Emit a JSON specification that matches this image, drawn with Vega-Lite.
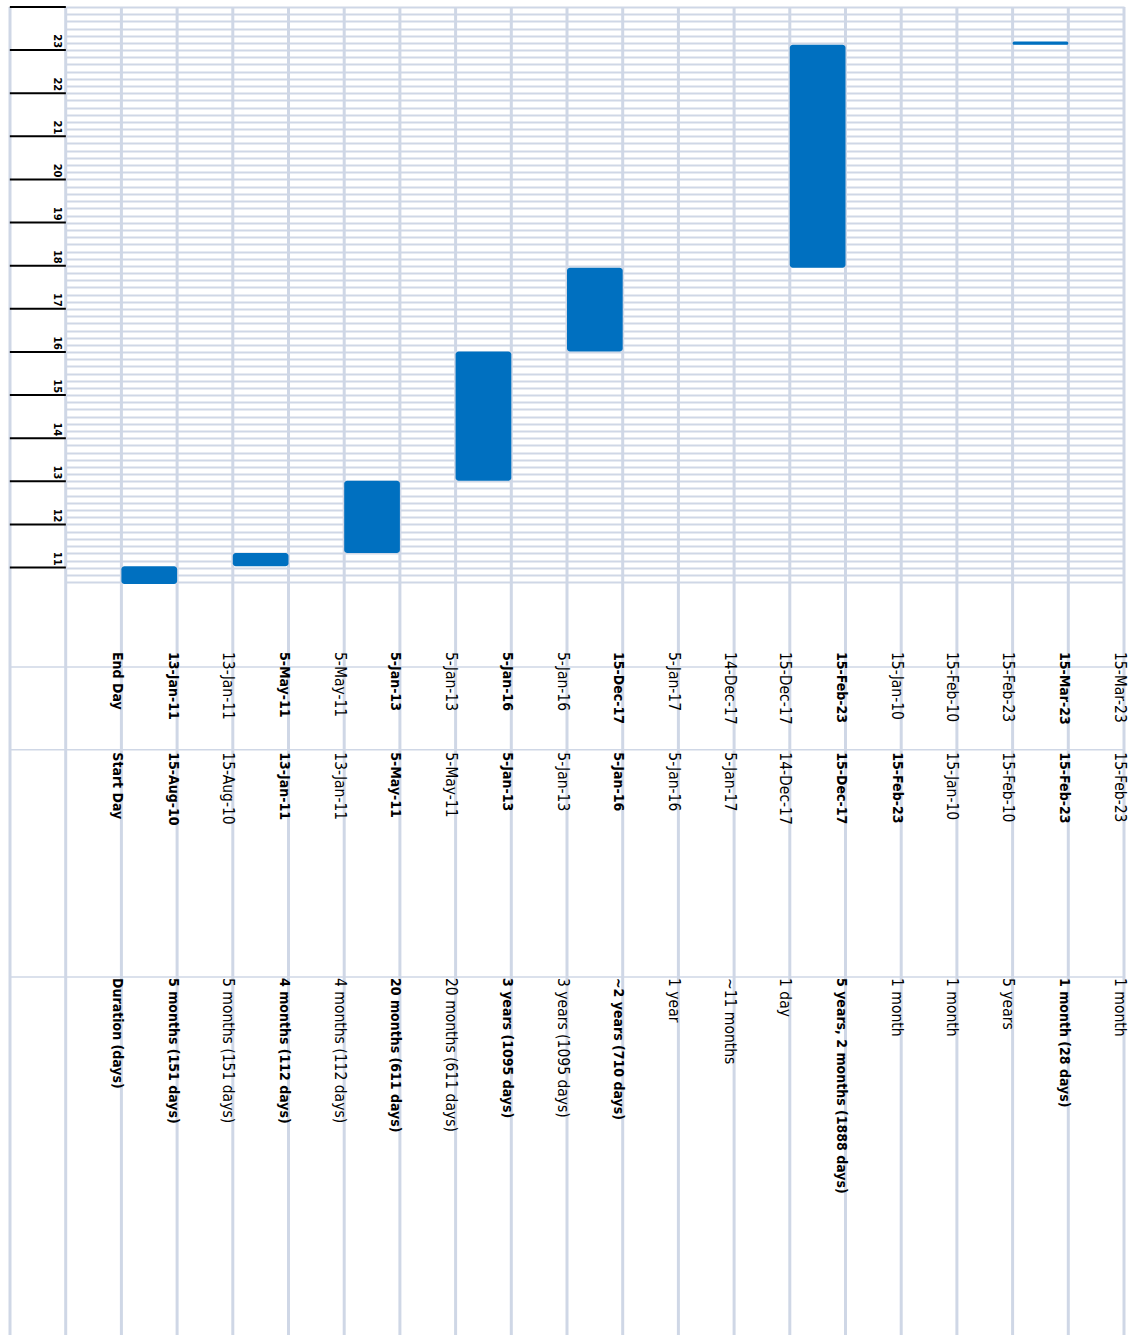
{
  "$schema": "https://vega.github.io/schema/vega-lite/v6.json",
  "padding": {"left": 8, "top": 5, "right": 9, "bottom": 0},
  "background": "white",
  "spacing": 0,
  "bounds": "flush",
  "config": {"view": {"stroke": null}, "font": "Liberation Sans Narrow, DejaVu Sans Condensed, sans-serif"},
  "datasets": {
    "cols": [{"col":"c0"},{"col":"c1"},{"col":"c2"},{"col":"c3"},{"col":"c4"},{"col":"c5"},{"col":"c6"},{"col":"c7"},{"col":"c8"},{"col":"c9"},{"col":"c10"},{"col":"c11"},{"col":"c12"},{"col":"c13"},{"col":"c14"},{"col":"c15"},{"col":"c16"},{"col":"c17"},{"col":"c18"},{"col":"c19"}],
    "years": [
      {"col":"c0","date":"2011-01-01","label":"11"},
      {"col":"c0","date":"2012-01-01","label":"12"},
      {"col":"c0","date":"2013-01-01","label":"13"},
      {"col":"c0","date":"2014-01-01","label":"14"},
      {"col":"c0","date":"2015-01-01","label":"15"},
      {"col":"c0","date":"2016-01-01","label":"16"},
      {"col":"c0","date":"2017-01-01","label":"17"},
      {"col":"c0","date":"2018-01-01","label":"18"},
      {"col":"c0","date":"2019-01-01","label":"19"},
      {"col":"c0","date":"2020-01-01","label":"20"},
      {"col":"c0","date":"2021-01-01","label":"21"},
      {"col":"c0","date":"2022-01-01","label":"22"},
      {"col":"c0","date":"2023-01-01","label":"23"},
      {"col":"c0","date":"2024-01-01","label":""}
    ],
    "steps": [
      {"col":"c2","start":"2010-08-15","end":"2011-01-13"},
      {"col":"c4","start":"2011-01-13","end":"2011-05-05"},
      {"col":"c6","start":"2011-05-05","end":"2013-01-05"},
      {"col":"c8","start":"2013-01-05","end":"2016-01-05"},
      {"col":"c10","start":"2016-01-05","end":"2017-12-15"},
      {"col":"c14","start":"2017-12-15","end":"2023-02-15"},
      {"col":"c18","start":"2023-02-15","end":"2023-03-15"}
    ],
    "rows": [{"row":"End Day"},{"row":"Start Day"},{"row":"Duration"}],
    "cells": [
      {"col":"c1","row":"End Day","text":"End Day","emph":true},
      {"col":"c1","row":"Start Day","text":"Start Day","emph":true},
      {"col":"c1","row":"Duration","text":"Duration (days)","emph":true},
      {"col":"c2","row":"End Day","text":"13-Jan-11","emph":true},
      {"col":"c2","row":"Start Day","text":"15-Aug-10","emph":true},
      {"col":"c2","row":"Duration","text":"5 months (151 days)","emph":true},
      {"col":"c3","row":"End Day","text":"13-Jan-11","emph":false},
      {"col":"c3","row":"Start Day","text":"15-Aug-10","emph":false},
      {"col":"c3","row":"Duration","text":"5 months (151 days)","emph":false},
      {"col":"c4","row":"End Day","text":"5-May-11","emph":true},
      {"col":"c4","row":"Start Day","text":"13-Jan-11","emph":true},
      {"col":"c4","row":"Duration","text":"4 months (112 days)","emph":true},
      {"col":"c5","row":"End Day","text":"5-May-11","emph":false},
      {"col":"c5","row":"Start Day","text":"13-Jan-11","emph":false},
      {"col":"c5","row":"Duration","text":"4 months (112 days)","emph":false},
      {"col":"c6","row":"End Day","text":"5-Jan-13","emph":true},
      {"col":"c6","row":"Start Day","text":"5-May-11","emph":true},
      {"col":"c6","row":"Duration","text":"20 months (611 days)","emph":true},
      {"col":"c7","row":"End Day","text":"5-Jan-13","emph":false},
      {"col":"c7","row":"Start Day","text":"5-May-11","emph":false},
      {"col":"c7","row":"Duration","text":"20 months (611 days)","emph":false},
      {"col":"c8","row":"End Day","text":"5-Jan-16","emph":true},
      {"col":"c8","row":"Start Day","text":"5-Jan-13","emph":true},
      {"col":"c8","row":"Duration","text":"3 years (1095 days)","emph":true},
      {"col":"c9","row":"End Day","text":"5-Jan-16","emph":false},
      {"col":"c9","row":"Start Day","text":"5-Jan-13","emph":false},
      {"col":"c9","row":"Duration","text":"3 years (1095 days)","emph":false},
      {"col":"c10","row":"End Day","text":"15-Dec-17","emph":true},
      {"col":"c10","row":"Start Day","text":"5-Jan-16","emph":true},
      {"col":"c10","row":"Duration","text":"~2 years (710 days)","emph":true},
      {"col":"c11","row":"End Day","text":"5-Jan-17","emph":false},
      {"col":"c11","row":"Start Day","text":"5-Jan-16","emph":false},
      {"col":"c11","row":"Duration","text":"1 year","emph":false},
      {"col":"c12","row":"End Day","text":"14-Dec-17","emph":false},
      {"col":"c12","row":"Start Day","text":"5-Jan-17","emph":false},
      {"col":"c12","row":"Duration","text":"~11 months","emph":false},
      {"col":"c13","row":"End Day","text":"15-Dec-17","emph":false},
      {"col":"c13","row":"Start Day","text":"14-Dec-17","emph":false},
      {"col":"c13","row":"Duration","text":"1 day","emph":false},
      {"col":"c14","row":"End Day","text":"15-Feb-23","emph":true},
      {"col":"c14","row":"Start Day","text":"15-Dec-17","emph":true},
      {"col":"c14","row":"Duration","text":"5 years, 2 months (1888 days)","emph":true},
      {"col":"c15","row":"End Day","text":"15-Jan-10","emph":false},
      {"col":"c15","row":"Start Day","text":"15-Feb-23","emph":true},
      {"col":"c15","row":"Duration","text":"1 month","emph":false},
      {"col":"c16","row":"End Day","text":"15-Feb-10","emph":false},
      {"col":"c16","row":"Start Day","text":"15-Jan-10","emph":false},
      {"col":"c16","row":"Duration","text":"1 month","emph":false},
      {"col":"c17","row":"End Day","text":"15-Feb-23","emph":false},
      {"col":"c17","row":"Start Day","text":"15-Feb-10","emph":false},
      {"col":"c17","row":"Duration","text":"5 years","emph":false},
      {"col":"c18","row":"End Day","text":"15-Mar-23","emph":true},
      {"col":"c18","row":"Start Day","text":"15-Feb-23","emph":true},
      {"col":"c18","row":"Duration","text":"1 month (28 days)","emph":true},
      {"col":"c19","row":"End Day","text":"15-Mar-23","emph":false},
      {"col":"c19","row":"Start Day","text":"15-Feb-23","emph":false},
      {"col":"c19","row":"Duration","text":"1 month","emph":false}
    ]
  },
  "vconcat": [
    {
      "width": 1114,
      "height": 577,
      "layer": [
        {
          "data": {"name": "cols"},
          "transform": [{"filter": "datum.col === 'c0'"}],
          "mark": {"type": "rect", "color": "white"},
          "encoding": {
            "x": {"field": "col", "type": "nominal", "scale": {"type": "band", "domain": ["c0","c1","c2","c3","c4","c5","c6","c7","c8","c9","c10","c11","c12","c13","c14","c15","c16","c17","c18","c19"], "paddingInner": 0, "paddingOuter": 0}, "axis": null}
          }
        },
        {
          "data": {"name": "cols"},
          "mark": {"type": "rule", "color": "#cfd7e6", "strokeWidth": 3},
          "encoding": {
            "x": {"field": "col", "type": "nominal", "bandPosition": 0, "axis": null}
          }
        },
        {
          "data": {"name": "cols"},
          "transform": [{"filter": "datum.col === 'c19'"}],
          "mark": {"type": "rule", "color": "#cfd7e6", "strokeWidth": 3},
          "encoding": {
            "x": {"field": "col", "type": "nominal", "bandPosition": 1, "axis": null}
          }
        },
        {
          "data": {"name": "years"},
          "mark": {"type": "tick", "orient": "horizontal", "color": "black", "size": 56, "thickness": 2, "opacity": 1},
          "encoding": {
            "x": {"field": "col", "type": "nominal", "axis": null},
            "y": {"field": "date", "type": "temporal", "scale": {"domain": ["2010-08-15", "2024-01-01"]}, "axis": {"title": null, "labels": false, "ticks": false, "domain": false, "grid": true, "gridColor": "#cfd7e6", "gridWidth": 2, "tickCount": {"interval": "month", "step": 2}}}
          }
        },
        {
          "data": {"name": "years"},
          "transform": [{"filter": "datum.label !== ''"}],
          "mark": {"type": "text", "angle": 90, "align": "right", "baseline": "middle", "fontSize": 11, "fontWeight": "bold", "color": "black", "dx": -2},
          "encoding": {
            "x": {"field": "col", "type": "nominal", "bandPosition": 0.85, "axis": null},
            "y": {"field": "date", "type": "temporal", "axis": {"title": null, "labels": false, "ticks": false, "domain": false, "grid": true, "gridColor": "#cfd7e6", "gridWidth": 2, "tickCount": {"interval": "month", "step": 2}}},
            "text": {"field": "label"}
          }
        },
        {
          "data": {"name": "steps"},
          "mark": {"type": "bar", "color": "#0070c0", "cornerRadius": 3},
          "encoding": {
            "x": {"field": "col", "type": "nominal", "axis": null},
            "y": {"field": "start", "type": "temporal", "axis": {"title": null, "labels": false, "ticks": false, "domain": false, "grid": true, "gridColor": "#cfd7e6", "gridWidth": 2, "tickCount": {"interval": "month", "step": 2}}},
            "y2": {"field": "end"}
          }
        }
      ]
    },
    {
      "width": 1114,
      "height": 753,
      "layer": [
        {
          "data": {"name": "cols"},
          "mark": {"type": "rule", "color": "#cfd7e6", "strokeWidth": 3},
          "encoding": {
            "x": {"field": "col", "type": "nominal", "bandPosition": 0, "scale": {"type": "band", "domain": ["c0","c1","c2","c3","c4","c5","c6","c7","c8","c9","c10","c11","c12","c13","c14","c15","c16","c17","c18","c19"], "paddingInner": 0, "paddingOuter": 0}, "axis": null}
          }
        },
        {
          "data": {"name": "cols"},
          "transform": [{"filter": "datum.col === 'c19'"}],
          "mark": {"type": "rule", "color": "#cfd7e6", "strokeWidth": 3},
          "encoding": {
            "x": {"field": "col", "type": "nominal", "bandPosition": 1, "axis": null}
          }
        },
        {
          "data": {"name": "rows"},
          "mark": {"type": "rule", "color": "#cfd7e6", "strokeWidth": 1.5},
          "encoding": {
            "y": {"field": "row", "type": "nominal", "axis": null, "scale": {"type": "point", "padding": 0, "range": [83, 393], "domain": ["End Day","l1","l2","l3","Start Day","l5","l6","l7","l8","l9","l10","l11","l12","l13","l14","Duration"]}}
          }
        },
        {
          "data": {"name": "cells"},
          "transform": [{"filter": "!datum.emph"}],
          "mark": {"type": "text", "angle": 90, "align": "left", "baseline": "middle", "fontSize": 15.5, "color": "black"},
          "encoding": {
            "x": {"field": "col", "type": "nominal", "bandPosition": 0.92, "axis": null},
            "y": {"field": "row", "type": "nominal", "axis": null, "scale": {"type": "point", "padding": 0, "range": [68, 394], "domain": ["End Day","t1","t2","t3","Start Day","t5","t6","t7","t8","t9","t10","t11","t12","Duration"]}},
            "text": {"field": "text"}
          }
        },
        {
          "data": {"name": "cells"},
          "transform": [{"filter": "datum.emph"}],
          "mark": {"type": "text", "angle": 90, "align": "left", "baseline": "middle", "fontSize": 14, "fontWeight": "bold", "color": "black"},
          "encoding": {
            "x": {"field": "col", "type": "nominal", "bandPosition": 0.92, "axis": null},
            "y": {"field": "row", "type": "nominal", "axis": null, "scale": {"type": "point", "padding": 0, "range": [68, 394], "domain": ["End Day","t1","t2","t3","Start Day","t5","t6","t7","t8","t9","t10","t11","t12","Duration"]}},
            "text": {"field": "text"}
          }
        }
      ],
      "resolve": {"scale": {"y": "independent"}}
    }
  ]
}
